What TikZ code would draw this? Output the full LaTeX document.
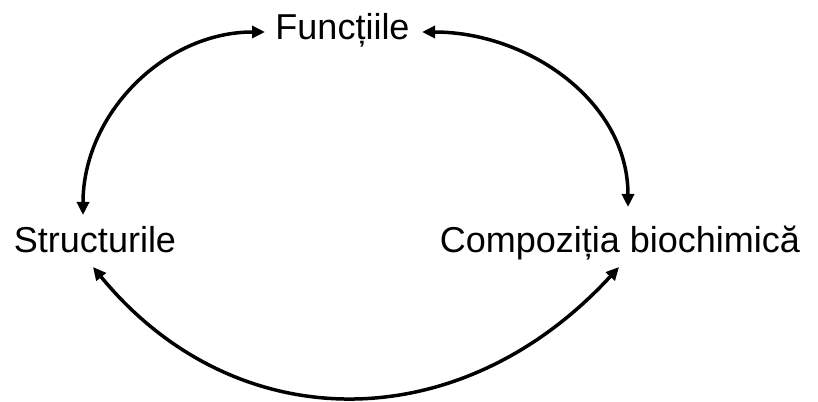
\documentclass[tikz,border=0pt]{standalone}
\usepackage{fontspec}
\setmainfont{Liberation Sans}
\usetikzlibrary{arrows.meta}
\begin{document}
\begin{tikzpicture}[x=1pt,y=1pt,
  lbl/.style={anchor=base, inner sep=0pt, font=\fontsize{36}{40}\selectfont},
  link/.style={line width=3.5pt, {Triangle[length=13pt,width=12pt]}-{Triangle[length=13pt,width=12pt]}}]
\useasboundingbox (0,0) rectangle (818,401);
\node[lbl] (f) at (342.5,361) {Funcțiile};
\node[lbl] (s) at (95,148) {Structurile};
\node[lbl] (c) at (620,148) {Compoziția biochimică};
\coordinate (fl) at ([shift={(-77.5,8)}]f.base);
\coordinate (fr) at ([shift={(79.5,8)}]f.base);
\coordinate (st) at ([shift={(-12,38)}]s.base);
\coordinate (sb) at ([shift={(-2,-14)}]s.base);
\coordinate (ct) at ([shift={(8,46)}]c.base);
\coordinate (cb) at ([shift={(-1,-14)}]c.base);
\draw[link] (fl) to[out=180,in=90] (st);
\draw[link] (fr) to[out=0,in=90] (ct);
\draw[link] (sb) .. controls ([shift={(142,-173)}]sb) and ([shift={(-159,-173)}]cb) .. (cb);
\end{tikzpicture}
\end{document}
